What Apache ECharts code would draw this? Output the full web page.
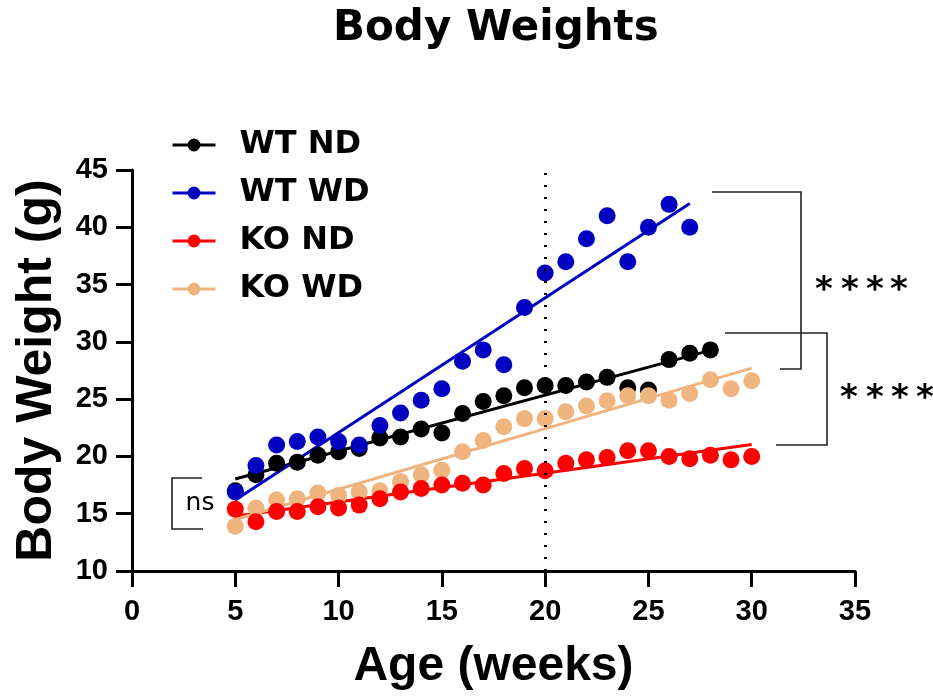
<!DOCTYPE html>
<html>
<head>
<meta charset="utf-8">
<script src="https://cdn.jsdelivr.net/npm/echarts@6/dist/echarts.min.js"></script>
<style>html,body{margin:0;padding:0;background:#fff}#chart{width:933px;height:698px}</style>
</head>
<body>
<div id="chart"></div>
<script>
// ---- data ----
var seriesNames = ['WT ND', 'WT WD', 'KO ND', 'KO WD'];
var colors = ['#000000', '#0000c0', '#ff0000', '#f0b57f'];

var wtNdWeeks = [5,6,7,8,9,10,11,12,13,14,15,16,17,18,19,20,21,22,23,24,25,26,27,28];
var wtNd = [17.0,18.4,19.4,19.5,20.1,20.4,20.7,21.6,21.7,22.4,22.05,23.75,24.8,25.3,26.0,26.2,26.2,26.5,26.9,26.0,25.8,28.45,29.0,29.3];

var wtWdWeeks = [5,6,7,8,9,10,11,12,13,14,15,16,17,18,19,20,21,22,23,24,25,26,27];
var wtWd = [16.9,19.2,21.0,21.3,21.7,21.3,21.0,22.7,23.8,24.9,25.9,28.3,29.3,28.0,33.0,36.0,37.0,39.0,41.0,37.0,40.0,42.0,40.0];

var koNdWeeks = [5,6,7,8,9,10,11,12,13,14,15,16,17,18,19,20,21,22,23,24,25,26,27,28,29,30];
var koNd = [15.4,14.3,15.2,15.2,15.6,15.5,15.75,16.3,16.9,17.2,17.5,17.65,17.5,18.5,18.95,18.75,19.4,19.7,19.9,20.5,20.5,20.0,19.8,20.1,19.7,20.0];

var koWdWeeks = [5,6,7,8,9,10,11,12,13,14,15,16,17,18,19,20,21,22,23,24,25,26,27,28,29,30];
var koWd = [13.9,15.5,16.2,16.3,16.8,16.6,16.9,17.0,17.8,18.4,18.8,20.4,21.4,22.6,23.3,23.3,23.9,24.4,24.85,25.3,25.3,24.9,25.5,26.7,25.9,26.6];

var xTicks = [0,5,10,15,20,25,30,35];
var yTicks = [10,15,20,25,30,35,40,45];
var dietSwitchWeek = 20;

// ---- helpers ----
function pairs(xs, ys) { return xs.map(function (x, i) { return [x, ys[i]]; }); }
function fitLine(xs, ys) {
  var n = xs.length, mx = 0, my = 0, sxy = 0, sxx = 0;
  for (var i = 0; i < n; i++) { mx += xs[i]; my += ys[i]; }
  mx /= n; my /= n;
  for (var j = 0; j < n; j++) { sxy += (xs[j]-mx)*(ys[j]-my); sxx += (xs[j]-mx)*(xs[j]-mx); }
  var b = sxy / sxx, a = my - b * mx;
  var x0 = xs[0], x1 = xs[n-1];
  return [[x0, a + b*x0], [x1, a + b*x1]];
}

var groups = [
  {name: seriesNames[0], xs: wtNdWeeks, ys: wtNd, color: colors[0]},
  {name: seriesNames[1], xs: wtWdWeeks, ys: wtWd, color: colors[1]},
  {name: seriesNames[2], xs: koNdWeeks, ys: koNd, color: colors[2]},
  {name: seriesNames[3], xs: koWdWeeks, ys: koWd, color: colors[3]}
];

var series = [];
groups.forEach(function (g, i) {
  var s = {
    name: g.name + ' fit', type: 'line', data: fitLine(g.xs, g.ys),
    showSymbol: false, symbol: 'none', silent: true, z: 2,
    lineStyle: {color: g.color, width: 3}, itemStyle: {color: g.color}
  };
  if (i === 0) {
    s.markLine = {
      silent: true, symbol: 'none', label: {show: false},
      lineStyle: {color: '#000', type: [2, 10], width: 3},
      data: [{xAxis: dietSwitchWeek}]
    };
  }
  series.push(s);
});
// points: draw order black, blue, tan, red
[0, 1, 3, 2].forEach(function (i) {
  var g = groups[i];
  series.push({
    name: g.name, type: 'line', data: pairs(g.xs, g.ys), z: 3,
    symbol: 'circle', symbolSize: 17,
    lineStyle: {width: 0, opacity: 0},
    itemStyle: {color: g.color}
  });
});

function bracket(pts) {
  return {type: 'polyline', shape: {points: pts}, style: {stroke: '#222', lineWidth: 1.6, fill: null}, z: 10};
}
function star(x, y) {
  return {type: 'text', x: x, y: y, style: {text: '*', font: 'bold 34px "DejaVu Sans"', fill: '#000', align: 'center', verticalAlign: 'middle'}, z: 10};
}
var graphics = [
  bracket([[712, 192], [801, 192], [801, 369], [780, 369]]),
  bracket([[725, 333], [827, 333], [827, 445], [776, 445]]),
  bracket([[202, 478], [172, 478], [172, 529], [203, 529]]),
  {type: 'text', x: 200, y: 503, style: {text: 'ns', font: '25px "DejaVu Sans"', fill: '#000', align: 'center', verticalAlign: 'middle'}, z: 10}
];
[824, 850, 875, 899].forEach(function (x) { graphics.push(star(x, 291)); });
[849, 875, 900, 925].forEach(function (x) { graphics.push(star(x, 399)); });

var chart = echarts.init(document.getElementById('chart'), null, {renderer: 'canvas'});
chart.setOption({
  backgroundColor: '#fff',
  animation: false,
  title: {
    text: 'Body Weights', left: 328, top: 3,
    textStyle: {fontFamily: 'DejaVu Sans', fontWeight: 'bold', fontSize: 42, color: '#000'}
  },
  legend: {
    data: seriesNames, orient: 'vertical', left: 171, top: 129, padding: 0,
    itemWidth: 43, itemHeight: 16, itemGap: 16,
    lineStyle: {width: 3, opacity: 1},
    textStyle: {fontFamily: 'DejaVu Sans', fontWeight: 'bold', fontSize: 32, color: '#000', lineHeight: 30, padding: [0, 0, 0, 19]}
  },
  grid: {left: 132, right: 78, top: 170, bottom: 127, containLabel: false},
  xAxis: {
    type: 'value', min: xTicks[0], max: xTicks[xTicks.length-1], interval: 5,
    name: 'Age (weeks)', nameLocation: 'middle', nameGap: 72,
    nameTextStyle: {fontFamily: 'Liberation Sans', fontWeight: 'bold', fontSize: 48, color: '#000'},
    axisLine: {onZero: false, lineStyle: {color: '#000', width: 3}},
    axisTick: {length: 16, lineStyle: {color: '#000', width: 3}},
    axisLabel: {margin: 26, fontFamily: 'Liberation Sans', fontWeight: 'bold', fontSize: 29, color: '#000'},
    splitLine: {show: false}
  },
  yAxis: {
    type: 'value', min: yTicks[0], max: yTicks[yTicks.length-1], interval: 5,
    name: 'Body Weight (g)', nameLocation: 'middle', nameGap: 70,
    nameTextStyle: {fontFamily: 'Liberation Sans', fontWeight: 'bold', fontSize: 50, color: '#000'},
    axisLine: {onZero: false, lineStyle: {color: '#000', width: 3}},
    axisTick: {length: 16, lineStyle: {color: '#000', width: 3}},
    axisLabel: {margin: 24, fontFamily: 'Liberation Sans', fontWeight: 'bold', fontSize: 29, color: '#000'},
    splitLine: {show: false}
  },
  series: series,
  graphic: graphics
});
</script>
</body>
</html>
